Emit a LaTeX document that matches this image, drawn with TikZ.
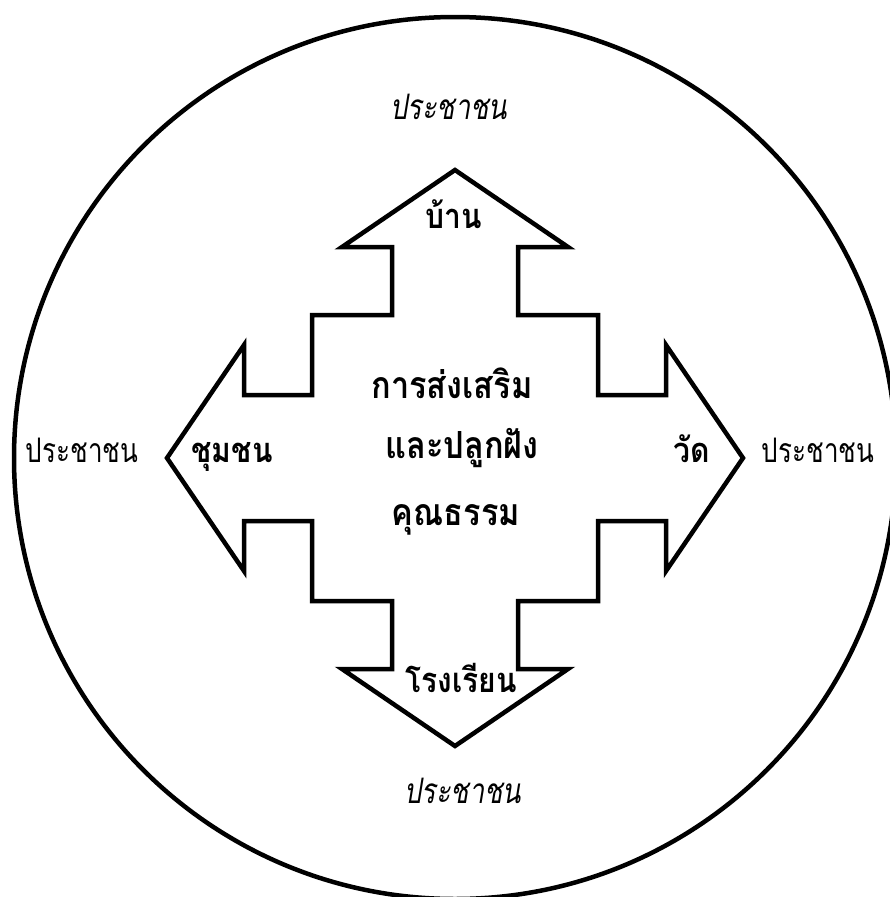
\documentclass[tikz,border=0pt]{standalone}
\usepackage{fontspec}
\newfontfamily\thai[Script=Thai]{Loma}
\newcommand\vstretch[2]{\scalebox{1}[#1]{#2}}
\tikzset{
  frame/.style={line width=4.5pt},
  arrowshape/.style={line width=4.5pt, line join=miter, fill=white},
  people/.style={font=\thai\fontsize{26}{30}\selectfont, inner sep=0pt, anchor=base},
  peopleit/.style={font=\thai\itshape\fontsize{27}{30}\selectfont, inner sep=0pt, anchor=base},
  place/.style={font=\thai\bfseries\fontsize{30}{34}\selectfont, inner sep=0pt, anchor=base},
  core/.style={font=\thai\bfseries\fontsize{32.5}{36}\selectfont, inner sep=0pt, anchor=base}
}
\begin{document}
\begin{tikzpicture}[x=1pt,y=-1pt]
\useasboundingbox (0,0) rectangle (890,897);
\clip (0,0) rectangle (890,897);
\fill[white] (0,0) rectangle (890,897);
\draw[frame] (455,458) circle[radius=441pt];
\draw[arrowshape,shift={(455,458)}]
  (0,-288) -- (113,-211) -- (63,-211) -- (63,-143) -- (143,-143) -- (143,-63)
  -- (211,-63) -- (211,-113) -- (288,0) -- (211,113) -- (211,63) -- (143,63)
  -- (143,143) -- (63,143) -- (63,211) -- (113,211) -- (0,288) -- (-113,211)
  -- (-63,211) -- (-63,143) -- (-143,143) -- (-143,63) -- (-211,63) -- (-211,113)
  -- (-288,0) -- (-211,-113) -- (-211,-63) -- (-143,-63) -- (-143,-143)
  -- (-63,-143) -- (-63,-211) -- (-113,-211) -- cycle;
\node[peopleit] (ptop) at (449,119) {\vstretch{1.3}{ประชาชน}};
\node[peopleit] (pbot) at (463,803) {\vstretch{1.3}{ประชาชน}};
\node[people] (pleft) at (82,462) {\vstretch{1.3}{ประชาชน}};
\node[people] (pright) at (818,462) {\vstretch{1.3}{ประชาชน}};
\node[place] (home) at (454,228) {\vstretch{1.15}{บ้าน}};
\node[place] (school) at (461,692) {\vstretch{1.15}{โรงเรียน}};
\node[place] (comm) at (232,462) {\vstretch{1.15}{ชุมชน}};
\node[place] (temple) at (692,462) {\vstretch{1.15}{วัด}};
\node[core] (c1) at (452,398) {\vstretch{1.15}{การส่งเสริม}};
\node[core] (c2) at (462,458) {\vstretch{1.15}{และปลูกฝัง}};
\node[core] (c3) at (456,525) {\vstretch{1.15}{คุณธรรม}};
\end{tikzpicture}
\end{document}
